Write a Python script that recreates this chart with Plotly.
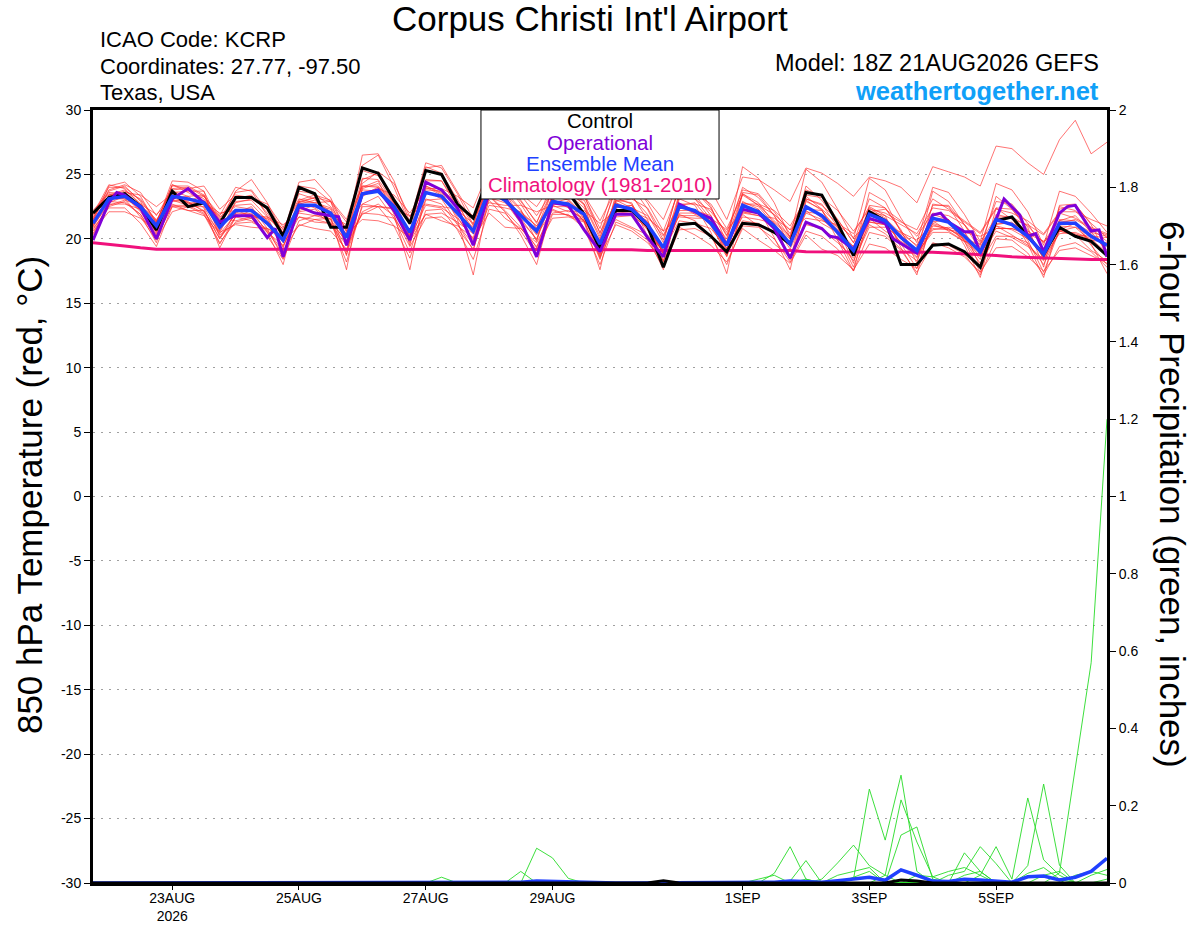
import pandas as pd
import plotly.graph_objects as go

# GEFS 18Z 21AUG2026 run, 6-hourly steps out to 384 h
run_start = pd.Timestamp("2026-08-21 18:00")
times = pd.date_range(run_start, periods=65, freq="6h")

tick_dates = ["2026-08-23", "2026-08-25", "2026-08-27", "2026-08-29",
              "2026-09-01", "2026-09-03", "2026-09-05"]
tick_text = ["23AUG<br>2026", "25AUG", "27AUG", "29AUG", "1SEP", "3SEP", "5SEP"]

temp_ticks = [30, 25, 20, 15, 10, 5, 0, -5, -10, -15, -20, -25, -30]
temp_tick_text = ["30", "25", "20", "15", "10", "5", "0", "-5", "-10", "-15", "-20", "-25", "-30"]

# 850 hPa temperature (C)
control = [22.0, 23.2, 23.5, 22.5, 20.7, 23.7, 22.5, 22.8,
           21.2, 23.2, 23.2, 22.4, 20.2, 24.0, 23.5, 20.9,
           20.9, 25.5, 25.1, 23.0, 21.2, 25.3, 25.0, 22.7,
           21.6, 25.0, 24.3, 23.8, 23.4, 24.2, 23.6, 21.9,
           19.2, 22.2, 22.2, 21.0, 17.8, 21.1, 21.2, 20.2,
           19.0, 21.2, 21.1, 20.5, 19.6, 23.6, 23.4, 21.2,
           18.7, 22.1, 21.4, 18.0, 18.0, 19.5, 19.6, 19.0,
           17.8, 21.4, 21.7, 20.2, 18.8, 20.9, 20.2, 19.8,
           18.7]

ens_mean = [21.2, 23.1, 23.3, 22.5, 21.0, 23.3, 23.1, 22.8,
            20.9, 22.2, 22.2, 21.2, 19.9, 22.6, 22.6, 22.0,
            20.1, 23.5, 23.7, 22.5, 20.5, 23.6, 23.3, 22.0,
            20.6, 23.8, 23.0, 21.8, 20.6, 22.9, 22.7, 21.9,
            19.6, 22.6, 22.3, 21.1, 19.3, 22.5, 22.2, 21.2,
            19.5, 22.6, 22.1, 21.0, 19.6, 22.5, 21.8, 20.5,
            19.1, 21.9, 21.4, 20.1, 19.1, 21.6, 21.3, 20.2,
            19.0, 21.5, 21.1, 20.2, 18.8, 21.2, 21.2, 20.2,
            19.5]

climatology = [19.7, 19.6, 19.45, 19.3, 19.2, 19.2, 19.2, 19.2,
               19.2, 19.2, 19.2, 19.2, 19.2, 19.2, 19.2, 19.2,
               19.2, 19.2, 19.2, 19.2, 19.2, 19.2, 19.2, 19.2,
               19.2, 19.15, 19.15, 19.15, 19.15, 19.15, 19.15, 19.15,
               19.15, 19.15, 19.15, 19.1, 19.1, 19.1, 19.1, 19.1,
               19.1, 19.1, 19.1, 19.1, 19.1, 19.0, 19.0, 19.0,
               19.0, 19.0, 19.0, 19.0, 19.0, 18.95, 18.9, 18.85,
               18.75, 18.7, 18.6, 18.55, 18.5, 18.45, 18.4, 18.4,
               18.4]

# operational run has some 3-hourly output
op_hours = [0, 6, 9, 12, 18, 24, 30, 36, 42, 48, 54, 60, 66, 69, 72,
            78, 84, 90, 93, 96, 102, 108, 114, 120, 126, 132, 138, 144,
            150, 156, 162, 168, 174, 180, 186, 192, 198, 204, 210, 216,
            222, 228, 234, 240, 246, 252, 258, 264, 270, 276, 279, 282,
            288, 294, 300, 303, 306, 312, 318, 321, 324, 330, 333, 336,
            342, 345, 351, 354, 357, 360, 366, 369, 372, 378, 381, 384]
op_temp = [19.9, 22.8, 23.6, 23.4, 22.4, 20.0, 23.1, 23.9, 22.8, 21.3, 21.8, 21.8, 20.1, 20.8, 18.6,
           22.5, 22.0, 21.8, 21.7, 19.5, 23.5, 23.8, 22.2, 19.9, 24.4, 23.8, 22.4, 19.5,
           23.6, 23.2, 21.4, 18.6, 22.8, 22.6, 20.7, 19.0, 21.9, 21.9, 20.1, 18.6,
           22.7, 22.1, 21.6, 19.5, 22.3, 22.0, 20.8, 18.5, 21.3, 20.8, 20.2, 20.1,
           19.2, 21.6, 21.2, 20.0, 19.65, 18.9, 21.85, 22.0, 21.3, 20.55, 20.55, 18.9,
           21.5, 23.1, 21.85, 20.2, 20.4, 19.0, 22.0, 22.5, 22.6, 20.6, 20.7, 18.6]

# ensemble members (red)
m01 = [21.8, 24.0, 24.0, 23.0, 21.3, 24.1, 24.1, 23.4, 21.1, 23.1, 23.4, 22.0, 20.2, 24.1, 23.9, 22.9,
       20.6, 25.7, 26.5, 24.0, 21.1, 25.6, 25.1, 23.0, 21.0, 24.8, 24.3, 22.7, 20.8, 23.8, 23.8, 22.6,
       20.0, 24.1, 24.1, 22.3, 19.9, 24.1, 23.7, 22.4, 20.2, 24.0, 23.2, 21.8, 20.1, 23.8, 23.3, 21.5,
       19.7, 23.1, 22.4, 20.6, 19.4, 22.6, 22.6, 21.1, 19.5, 22.9, 22.7, 21.2, 19.2, 22.3, 22.6, 21.2, 20.1]
m02 = [20.7, 22.5, 22.9, 21.9, 20.1, 22.6, 22.6, 22.0, 19.7, 21.3, 21.6, 20.2, 18.4, 21.4, 21.8, 21.5,
       18.8, 22.5, 22.5, 21.0, 18.5, 22.2, 22.3, 20.7, 18.4, 22.3, 22.0, 20.6, 18.8, 21.9, 21.9, 20.8,
       18.0, 21.3, 20.8, 19.9, 17.8, 20.7, 20.8, 20.2, 18.0, 21.0, 20.9, 20.0, 18.2, 20.6, 20.2, 19.2,
       17.5, 20.5, 20.2, 19.1, 17.4, 19.6, 19.5, 18.8, 17.2, 20.0, 19.9, 18.9, 17.2, 19.4, 19.7, 19.0, 17.8]
m03 = [21.5, 23.1, 23.1, 22.7, 21.9, 23.0, 22.6, 22.8, 22.0, 22.2, 21.8, 21.7, 21.1, 22.0, 21.8, 21.8,
       21.1, 22.7, 22.5, 22.3, 21.8, 22.7, 22.5, 22.3, 21.8, 22.8, 22.6, 22.6, 22.1, 22.6, 22.1, 22.2,
       21.2, 22.2, 22.1, 21.6, 20.6, 21.7, 21.6, 21.6, 20.7, 22.1, 21.8, 21.6, 20.7, 21.6, 21.4, 21.1,
       20.1, 21.3, 21.1, 20.5, 19.9, 21.1, 20.7, 20.5, 20.2, 20.8, 20.8, 20.4, 19.8, 20.6, 20.3, 20.2, 20.1]
m04 = [21.4, 24.1, 24.4, 23.3, 21.2, 24.5, 24.4, 23.7, 21.2, 23.7, 24.6, 22.8, 20.4, 24.4, 24.6, 23.2,
       20.5, 26.5, 26.6, 24.5, 21.3, 25.9, 25.5, 23.5, 21.1, 25.3, 24.6, 23.0, 21.2, 24.5, 24.7, 23.4,
       20.4, 23.8, 23.3, 21.9, 19.7, 24.2, 24.2, 22.5, 19.7, 25.6, 24.7, 22.8, 20.1, 25.4, 24.4, 22.3,
       20.0, 24.7, 23.8, 21.6, 19.7, 24.0, 23.6, 21.9, 19.8, 24.3, 23.8, 22.1, 19.5, 23.7, 23.3, 22.0, 20.5]
m05 = [21.0, 23.4, 23.8, 22.7, 20.6, 23.7, 23.3, 23.4, 20.6, 22.9, 23.0, 21.7, 19.3, 22.8, 23.2, 22.9,
       19.6, 23.9, 24.3, 22.8, 20.1, 24.3, 23.8, 22.8, 20.4, 24.8, 24.4, 23.4, 21.8, 23.7, 23.7, 23.4,
       21.4, 23.8, 23.9, 23.0, 21.5, 24.5, 24.5, 23.8, 21.5, 24.8, 24.6, 23.8, 22.9, 25.5, 25.1, 24.3,
       23.3, 24.8, 24.5, 24.0, 22.8, 25.6, 25.2, 24.8, 24.1, 27.2, 27.0, 25.9, 25.0, 27.7, 29.2, 26.6, 27.5]
m06 = [20.9, 22.9, 22.8, 21.9, 19.7, 23.2, 23.3, 22.4, 19.3, 21.7, 22.2, 20.5, 18.0, 22.9, 23.2, 21.7,
       17.6, 24.0, 24.5, 21.9, 17.6, 23.8, 23.7, 21.5, 17.2, 23.3, 22.1, 20.3, 18.0, 22.6, 22.9, 21.3,
       17.6, 23.0, 22.8, 20.2, 17.6, 23.1, 22.6, 20.5, 17.3, 22.9, 22.3, 20.1, 17.6, 22.9, 22.3, 19.9,
       17.5, 22.1, 21.8, 19.3, 17.2, 21.9, 21.5, 19.5, 17.0, 21.6, 21.6, 19.6, 17.0, 21.5, 21.4, 19.6, 17.3]
m07 = [22.2, 23.6, 23.5, 22.5, 21.4, 23.4, 22.8, 22.7, 21.8, 24.0, 23.7, 21.8, 20.3, 23.5, 23.1, 21.8,
       20.3, 24.7, 24.6, 22.8, 20.2, 24.5, 24.5, 22.7, 20.7, 24.4, 23.2, 21.4, 20.0, 23.4, 23.0, 21.7,
       18.8, 22.4, 22.6, 21.2, 18.8, 23.3, 23.1, 21.5, 19.2, 23.6, 23.4, 21.8, 19.4, 24.1, 23.0, 21.3,
       18.7, 23.6, 22.9, 20.5, 18.9, 23.7, 22.9, 21.1, 19.1, 23.3, 22.3, 20.7, 18.4, 22.5, 22.2, 20.8, 19.8]
m08 = [20.4, 22.8, 23.3, 22.1, 20.3, 22.5, 22.2, 22.2, 20.0, 22.0, 21.9, 21.2, 19.4, 22.2, 22.6, 22.3,
       19.5, 22.0, 21.9, 21.6, 19.8, 21.9, 21.4, 21.0, 20.1, 23.6, 23.5, 22.2, 20.4, 23.3, 23.5, 22.4,
       19.3, 22.0, 22.1, 21.4, 18.8, 22.2, 22.2, 21.8, 19.7, 21.7, 21.5, 21.2, 19.7, 22.1, 21.9, 20.9,
       18.9, 21.3, 21.1, 20.3, 18.8, 20.7, 20.9, 20.5, 18.9, 20.8, 20.8, 20.3, 18.6, 20.4, 20.5, 20.0, 18.9]
m09 = [21.6, 23.8, 24.2, 23.6, 21.8, 23.8, 23.9, 24.1, 22.3, 23.4, 23.2, 22.7, 20.9, 22.9, 22.8, 22.4,
       20.3, 24.3, 25.2, 24.3, 21.7, 24.1, 23.6, 22.7, 21.5, 24.1, 23.0, 22.0, 21.0, 23.1, 22.4, 21.4,
       19.4, 23.2, 22.7, 20.9, 18.9, 21.9, 21.4, 20.2, 18.7, 21.9, 21.0, 19.6, 18.6, 21.3, 20.7, 19.7,
       18.5, 21.1, 20.4, 19.2, 18.3, 21.0, 20.8, 20.0, 18.6, 20.6, 20.1, 19.4, 18.3, 20.6, 20.3, 19.1, 18.3]
m10 = [21.1, 23.3, 23.1, 21.7, 19.9, 22.1, 22.5, 22.5, 20.3, 21.2, 21.3, 20.7, 19.0, 21.1, 20.8, 20.6,
       19.2, 22.1, 22.7, 21.8, 19.4, 21.6, 21.7, 20.8, 19.2, 23.0, 21.6, 20.8, 19.4, 21.6, 21.7, 21.3,
       18.6, 21.1, 20.6, 19.7, 18.3, 20.9, 20.3, 19.5, 18.2, 20.8, 19.9, 19.1, 18.1, 20.3, 19.2, 18.7,
       17.6, 19.6, 19.3, 18.4, 17.7, 19.7, 19.3, 18.6, 17.4, 19.3, 19.4, 18.6, 17.5, 19.1, 19.3, 18.7, 18.1]
m11 = [21.9, 24.2, 23.9, 22.7, 20.8, 24.2, 23.6, 22.9, 20.5, 22.8, 23.1, 22.3, 20.7, 22.4, 22.1, 21.2,
       19.0, 23.3, 23.9, 23.4, 22.0, 23.9, 23.9, 23.3, 22.4, 25.4, 23.6, 21.6, 19.9, 23.2, 23.3, 23.0,
       20.5, 22.8, 22.0, 20.7, 19.3, 23.5, 23.5, 22.7, 20.8, 23.4, 22.6, 21.4, 20.2, 23.4, 23.2, 22.2,
       20.6, 22.3, 22.0, 21.3, 20.7, 23.1, 22.3, 21.4, 20.5, 22.4, 21.5, 21.1, 20.3, 22.0, 21.6, 20.9, 20.4]
m12 = [21.0, 22.7, 22.7, 22.3, 21.3, 23.0, 22.9, 22.1, 20.5, 21.1, 20.9, 20.8, 20.3, 21.7, 21.3, 21.2,
       19.9, 21.9, 22.5, 22.4, 20.1, 22.6, 22.4, 21.6, 20.0, 22.0, 20.9, 20.8, 19.7, 22.0, 22.2, 21.6,
       19.6, 21.7, 21.8, 20.9, 19.1, 21.4, 21.2, 20.8, 19.3, 22.1, 22.0, 21.0, 20.0, 22.6, 21.6, 20.4,
       19.4, 22.4, 21.6, 20.4, 19.5, 21.4, 20.6, 19.8, 19.6, 21.2, 21.2, 20.6, 19.8, 21.4, 21.2, 20.5, 20.2]
m13 = [21.7, 23.3, 23.7, 23.1, 21.4, 23.9, 24.0, 23.3, 21.7, 22.5, 22.3, 21.5, 19.7, 23.0, 23.4, 23.0,
       21.5, 25.3, 24.9, 23.0, 20.4, 25.5, 25.7, 23.6, 21.6, 24.7, 24.2, 22.9, 21.3, 23.7, 24.0, 23.3,
       20.8, 24.6, 24.5, 22.8, 20.6, 23.8, 23.1, 22.1, 20.5, 23.8, 23.5, 22.1, 20.4, 23.0, 22.2, 20.7,
       19.4, 22.0, 21.2, 19.7, 18.5, 21.2, 20.8, 19.9, 18.8, 21.0, 20.3, 19.5, 18.4, 21.4, 21.8, 20.5, 19.4]
m14 = [20.6, 22.1, 22.1, 21.6, 20.6, 22.7, 22.2, 21.8, 20.4, 21.9, 21.6, 20.5, 19.5, 21.7, 21.5, 21.2,
       19.5, 23.4, 24.0, 22.7, 20.3, 24.1, 23.5, 21.7, 19.9, 23.4, 22.2, 20.9, 19.1, 22.5, 22.5, 21.4,
       18.4, 22.2, 22.2, 21.3, 19.0, 22.0, 22.0, 21.3, 19.1, 21.4, 21.2, 20.5, 18.7, 21.1, 20.8, 19.9,
       18.3, 20.9, 20.9, 20.1, 18.9, 20.5, 20.5, 19.8, 18.1, 20.2, 20.2, 19.7, 18.0, 20.6, 20.9, 20.4, 19.1]
m15 = [21.3, 23.0, 23.6, 23.4, 22.5, 23.5, 22.7, 23.0, 21.6, 21.4, 21.7, 21.6, 20.8, 23.1, 22.8, 22.9,
       21.3, 24.1, 24.1, 22.8, 21.4, 23.7, 23.1, 22.2, 21.2, 24.3, 24.2, 23.5, 22.5, 24.3, 23.6, 22.7,
       20.2, 22.9, 23.1, 22.4, 20.3, 22.7, 22.7, 22.3, 20.3, 22.7, 22.7, 22.2, 21.0, 23.1, 22.6, 21.5,
       19.7, 22.1, 22.3, 21.4, 20.2, 22.0, 21.8, 21.1, 19.7, 21.7, 21.7, 21.0, 19.7, 21.2, 21.5, 20.8, 20.3]
m16 = [20.8, 22.4, 22.4, 21.2, 19.4, 22.5, 22.5, 21.9, 19.6, 21.7, 22.0, 20.6, 18.8, 22.1, 22.3, 21.3,
       18.2, 22.7, 23.3, 21.6, 18.9, 23.0, 23.1, 21.2, 19.1, 23.5, 22.9, 21.2, 19.3, 22.8, 23.1, 21.8,
       18.5, 22.4, 22.6, 20.7, 18.3, 22.6, 22.8, 21.3, 18.6, 22.2, 22.3, 20.7, 18.4, 22.3, 22.2, 20.3,
       17.8, 21.4, 21.5, 19.6, 17.7, 21.3, 21.5, 19.8, 17.4, 21.1, 21.3, 19.9, 17.4, 20.7, 21.2, 19.5, 18.0]
m17 = [22.1, 23.5, 23.3, 22.2, 21.2, 24.2, 23.8, 23.1, 21.5, 23.6, 23.8, 22.2, 20.5, 23.7, 23.5, 22.5,
       20.8, 24.1, 24.0, 22.2, 19.7, 23.1, 22.7, 21.1, 19.6, 22.6, 22.4, 22.1, 21.0, 22.3, 21.8, 21.5,
       19.5, 21.5, 20.9, 20.3, 19.1, 21.8, 21.8, 21.4, 19.6, 22.0, 21.8, 21.3, 20.1, 22.2, 21.2, 20.5,
       19.3, 21.6, 20.6, 19.8, 19.1, 20.8, 20.7, 20.2, 19.4, 21.0, 20.7, 20.0, 19.1, 20.7, 20.4, 19.9, 19.7]
m18 = [20.3, 22.6, 23.0, 22.6, 21.5, 22.9, 23.0, 23.3, 21.9, 22.6, 22.7, 21.4, 19.8, 21.0, 21.5, 21.6,
       20.4, 21.5, 21.4, 21.0, 20.1, 21.9, 22.0, 21.3, 20.4, 23.2, 22.8, 21.9, 20.3, 22.2, 21.8, 21.4,
       19.9, 23.0, 22.4, 21.8, 20.2, 22.6, 21.9, 21.5, 20.0, 23.5, 22.6, 21.9, 20.7, 23.3, 22.3, 21.2,
       20.4, 22.5, 21.8, 21.1, 20.4, 22.4, 22.2, 21.3, 20.4, 22.3, 22.0, 21.4, 20.4, 22.1, 22.1, 21.5, 21.0]
m19 = [21.5, 23.7, 24.1, 22.9, 20.5, 23.6, 23.7, 23.7, 20.1, 22.0, 22.5, 20.8, 18.5, 22.7, 23.0, 22.1,
       18.7, 24.6, 25.1, 23.2, 19.5, 24.6, 24.5, 22.4, 19.6, 24.0, 23.7, 22.3, 19.8, 24.0, 24.1, 22.7,
       18.7, 23.5, 23.4, 21.5, 18.2, 23.4, 23.4, 21.8, 18.7, 23.5, 22.8, 21.2, 18.4, 23.1, 22.7, 20.9,
       18.1, 22.6, 22.4, 20.7, 18.1, 22.7, 22.5, 20.6, 17.8, 22.4, 22.3, 20.9, 17.8, 22.6, 22.7, 21.1, 18.7]
m20 = [21.1, 23.4, 23.4, 22.3, 20.4, 23.2, 22.8, 22.2, 20.0, 21.7, 21.4, 20.8, 20.0, 22.8, 22.4, 21.5,
       19.7, 23.8, 23.7, 22.1, 20.0, 24.0, 23.4, 21.9, 20.9, 23.5, 23.1, 21.7, 20.8, 22.7, 22.8, 21.6,
       19.2, 22.8, 22.3, 20.8, 18.9, 22.4, 22.2, 21.0, 18.9, 22.8, 22.5, 21.1, 19.2, 22.0, 21.5, 20.5,
       18.8, 22.2, 21.5, 20.0, 18.6, 21.6, 21.5, 19.9, 18.4, 21.9, 21.6, 20.5, 18.5, 21.0, 20.9, 19.8, 18.6]
members = [m01, m02, m03, m04, m05, m06, m07, m08, m09, m10,
           m11, m12, m13, m14, m15, m16, m17, m18, m19, m20]

# 6-hour precipitation (inches), members in green
p01 = [0, 0, 0, 0, 0, 0, 0, 0, 0, 0, 0, 0, 0, 0, 0, 0, 0, 0, 0, 0, 0, 0, 0.015, 0, 0, 0, 0, 0, 0.09, 0.065, 0.012, 0,
       0, 0, 0, 0, 0, 0, 0, 0, 0, 0, 0, 0.025, 0.094, 0.01, 0, 0, 0, 0, 0, 0, 0, 0, 0, 0, 0, 0, 0, 0, 0, 0, 0.02, 0.03, 0.02]
p02 = [0, 0, 0, 0, 0, 0, 0, 0, 0, 0, 0, 0, 0, 0, 0, 0, 0, 0, 0, 0, 0, 0, 0, 0, 0, 0, 0, 0.03, 0, 0, 0, 0,
       0, 0, 0, 0, 0, 0, 0, 0, 0, 0, 0, 0, 0.005, 0.058, 0, 0.02, 0.03, 0.04, 0, 0, 0, 0, 0, 0, 0, 0, 0, 0, 0.02, 0.03, 0, 0, 0]
p03 = [0, 0, 0, 0, 0, 0, 0, 0, 0, 0, 0, 0, 0, 0, 0, 0, 0, 0, 0, 0, 0, 0, 0, 0, 0, 0, 0, 0, 0, 0, 0, 0,
       0, 0, 0, 0, 0, 0, 0, 0, 0, 0, 0, 0, 0, 0, 0.01, 0.052, 0.098, 0.045, 0.02, 0, 0, 0, 0, 0.02, 0.03, 0, 0, 0, 0, 0, 0, 0, 0]
p04 = [0, 0, 0, 0, 0, 0, 0, 0, 0, 0, 0, 0, 0, 0, 0, 0, 0, 0, 0, 0, 0, 0, 0, 0, 0, 0, 0, 0, 0, 0, 0, 0,
       0, 0, 0, 0, 0, 0, 0, 0, 0, 0, 0, 0, 0, 0, 0, 0, 0.01, 0.243, 0.111, 0.279, 0.03, 0, 0, 0, 0, 0, 0, 0, 0, 0, 0, 0, 0]
p05 = [0, 0, 0, 0, 0, 0, 0, 0, 0, 0, 0, 0, 0, 0, 0, 0, 0, 0, 0, 0, 0, 0, 0, 0, 0, 0, 0, 0, 0, 0, 0, 0,
       0, 0, 0, 0, 0, 0, 0, 0, 0, 0, 0, 0, 0, 0, 0, 0, 0, 0, 0.02, 0.215, 0.106, 0.016, 0, 0, 0, 0, 0, 0.045, 0.256, 0.046, 0, 0, 0]
p06 = [0, 0, 0, 0, 0, 0, 0, 0, 0, 0, 0, 0, 0, 0, 0, 0, 0, 0, 0, 0, 0, 0, 0, 0, 0, 0, 0, 0, 0, 0, 0, 0,
       0, 0, 0, 0, 0, 0, 0, 0, 0, 0, 0, 0, 0, 0, 0, 0, 0, 0, 0, 0.124, 0.145, 0.01, 0, 0.078, 0.03, 0, 0, 0, 0, 0, 0, 0, 0]
p07 = [0, 0, 0, 0, 0, 0, 0, 0, 0, 0, 0, 0, 0, 0, 0, 0, 0, 0, 0, 0, 0, 0, 0, 0, 0, 0, 0, 0, 0, 0, 0, 0,
       0, 0, 0, 0, 0, 0, 0, 0, 0, 0, 0, 0, 0, 0, 0, 0, 0, 0, 0, 0, 0, 0, 0.02, 0.03, 0.094, 0.05, 0, 0, 0, 0.026, 0.30, 0.57, 1.2]
p08 = [0, 0, 0, 0, 0, 0, 0, 0, 0, 0, 0, 0, 0, 0, 0, 0, 0, 0, 0, 0, 0, 0, 0, 0, 0, 0, 0, 0, 0, 0, 0, 0,
       0, 0, 0, 0, 0, 0, 0, 0, 0, 0, 0, 0, 0, 0, 0, 0, 0, 0, 0, 0, 0, 0, 0, 0, 0.02, 0.094, 0.01, 0.22, 0.06, 0.02, 0, 0, 0]
p09 = [0, 0, 0, 0, 0, 0, 0, 0, 0, 0, 0, 0, 0, 0, 0, 0, 0, 0, 0, 0, 0, 0, 0, 0, 0, 0, 0, 0, 0, 0, 0, 0,
       0, 0, 0, 0, 0, 0, 0, 0, 0, 0, 0, 0, 0, 0, 0, 0, 0.015, 0.03, 0, 0, 0.02, 0.016, 0.03, 0.04, 0.02, 0, 0, 0, 0, 0, 0, 0.02, 0.035]
p10 = [0, 0, 0, 0, 0, 0, 0, 0, 0, 0, 0, 0, 0, 0, 0, 0, 0, 0, 0, 0, 0, 0, 0, 0, 0, 0, 0, 0, 0, 0, 0, 0,
       0, 0, 0, 0, 0, 0, 0, 0, 0, 0, 0.01, 0.02, 0, 0.01, 0, 0, 0, 0, 0, 0, 0, 0, 0, 0, 0, 0, 0, 0.025, 0.04, 0.01, 0, 0, 0.01]
precip_members = [p01, p02, p03, p04, p05, p06, p07, p08, p09, p10]

precip_mean = [0, 0, 0, 0, 0, 0, 0, 0, 0, 0, 0, 0, 0, 0, 0, 0, 0, 0, 0, 0, 0, 0, 0.001, 0, 0, 0, 0, 0.002, 0.005, 0.004, 0.001, 0,
               0, 0, 0, 0, 0, 0, 0, 0, 0, 0, 0, 0.002, 0.005, 0.004, 0.002, 0.006, 0.01, 0.015, 0.007, 0.034, 0.02, 0.005,
               0.004, 0.01, 0.008, 0.006, 0.002, 0.016, 0.018, 0.008, 0.015, 0.03, 0.064]
precip_control = [0, 0, 0, 0, 0, 0, 0, 0, 0, 0, 0, 0, 0, 0, 0, 0, 0, 0, 0, 0, 0, 0, 0, 0, 0, 0, 0, 0, 0, 0, 0, 0,
                  0, 0, 0, 0, 0.006, 0, 0, 0, 0, 0, 0, 0, 0, 0, 0, 0, 0, 0, 0, 0.008, 0.005, 0, 0, 0, 0, 0, 0, 0, 0, 0, 0, 0, 0]

legend_labels = ["Control", "Operational", "Ensemble Mean", "Climatology (1981-2010)"]

FONT = "Liberation Sans, Arial, Helvetica, sans-serif"
RED = "rgba(255,40,40,0.65)"
GREEN = "rgba(40,220,40,0.9)"
BLACK = "#000000"
PURPLE = "#8000d8"
BLUE = "#2040ff"
PINK = "#f0107c"
legend_colors = [BLACK, PURPLE, BLUE, PINK]

op_times = [run_start + pd.Timedelta(hours=h) for h in op_hours]

fig = go.Figure()

for m in members:
    fig.add_trace(go.Scatter(x=times, y=m, mode="lines", line=dict(color=RED, width=1),
                             showlegend=False, hoverinfo="skip"))

fig.add_trace(go.Scatter(x=times, y=climatology, mode="lines", line=dict(color=PINK, width=3), showlegend=False))
fig.add_trace(go.Scatter(x=times, y=control, mode="lines", line=dict(color=BLACK, width=3), showlegend=False))
fig.add_trace(go.Scatter(x=op_times, y=op_temp, mode="lines", line=dict(color=PURPLE, width=3), showlegend=False))
fig.add_trace(go.Scatter(x=times, y=ens_mean, mode="lines", line=dict(color=BLUE, width=3.5), showlegend=False))

for p in precip_members:
    fig.add_trace(go.Scatter(x=times, y=p, mode="lines", line=dict(color=GREEN, width=1),
                             yaxis="y2", showlegend=False, hoverinfo="skip"))
fig.add_trace(go.Scatter(x=times, y=precip_mean, mode="lines", line=dict(color=BLUE, width=3.5),
                         yaxis="y2", showlegend=False))
fig.add_trace(go.Scatter(x=times, y=precip_control, mode="lines", line=dict(color=BLACK, width=3),
                         yaxis="y2", showlegend=False))

annotations = [
    dict(text="Corpus Christi Int'l Airport", x=0.49, y=1.119, font=dict(size=35)),
    dict(text="ICAO Code: KCRP", x=0.005, y=1.0906, xanchor="left", font=dict(size=22)),
    dict(text="Coordinates: 27.77, -97.50", x=0.005, y=1.0569, xanchor="left", font=dict(size=22)),
    dict(text="Texas, USA", x=0.005, y=1.022, xanchor="left", font=dict(size=22)),
    dict(text="Model: 18Z 21AUG2026 GEFS", x=0.994, y=1.061, xanchor="right", font=dict(size=23.5)),
    dict(text="<b>weathertogether.net</b>", x=0.994, y=1.0245, xanchor="right",
         font=dict(size=25.5, color="#10a0f8")),
    dict(text="850 hPa Temperature (red, °C)", x=-0.062, y=0.502, textangle=-90, font=dict(size=35)),
    dict(text="6-hour Precipitation (green, inches)", x=1.064, y=0.502, textangle=90, font=dict(size=35)),
]
# text-only legend, one line per entry
for k, (lab, col) in enumerate(zip(legend_labels, legend_colors)):
    annotations.append(dict(text=lab, x=0.5, y=0.9858 - 0.0276 * k, font=dict(size=20.5, color=col)))

for a in annotations:
    a.setdefault("xref", "paper")
    a.setdefault("yref", "paper")
    a.setdefault("showarrow", False)
    a.setdefault("xanchor", "center")
    a.setdefault("yanchor", "middle")
    a["font"].setdefault("color", "black")
    a["font"]["family"] = FONT

fig.update_layout(
    width=1200, height=927,
    margin=dict(l=93, r=93, t=110, b=44),
    paper_bgcolor="white", plot_bgcolor="white",
    font=dict(family=FONT, color="black"),
    showlegend=False,
    annotations=annotations,
    shapes=[dict(type="rect", xref="paper", yref="paper", x0=0.3826, x1=0.6174, y0=0.8849, y1=1.0,
                 fillcolor="white", line=dict(color="black", width=1), layer="above")],
    xaxis=dict(
        type="date", automargin=False,
        range=[times[0], times[-1]],
        tickvals=pd.to_datetime(tick_dates), ticktext=tick_text,
        ticks="outside", ticklen=4, tickwidth=1, tickcolor="black",
        tickfont=dict(size=14), ticklabelstandoff=-4,
        showgrid=False, showline=True, linewidth=3, linecolor="black", mirror=True,
    ),
    yaxis=dict(
        range=[-30, 30], tickvals=temp_ticks, ticktext=temp_tick_text, automargin=False,
        ticks="outside", ticklen=6, tickwidth=1, tickcolor="black",
        tickfont=dict(size=14),
        showgrid=True, gridcolor="#a0a0a0", gridwidth=1, griddash="2px,6px",
        zeroline=False, showline=True, linewidth=3, linecolor="black",
    ),
    yaxis2=dict(
        range=[0, 2], dtick=0.2, overlaying="y", side="right", automargin=False,
        ticks="outside", ticklen=6, tickwidth=1, tickcolor="black",
        tickfont=dict(size=14),
        showgrid=False, zeroline=False, showline=True, linewidth=3, linecolor="black",
    ),
)

fig.write_html("out.html", config={"displayModeBar": False},
               post_script="document.body.style.margin='0';")
